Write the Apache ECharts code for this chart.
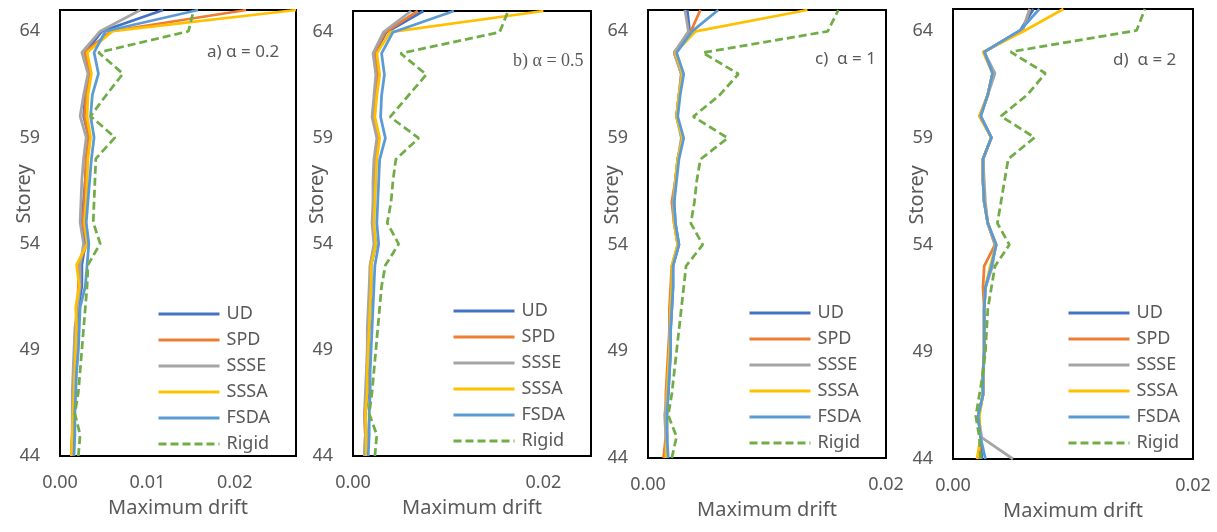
<!DOCTYPE html>
<html>
<head>
<meta charset="utf-8">
<script src="https://cdn.jsdelivr.net/npm/echarts@6/dist/echarts.min.js"></script>
<style>html,body{margin:0;padding:0;background:#fff}#c{width:1217px;height:532px}</style>
</head>
<body>
<div id="c"></div>
<script>
// ---------- data ----------
const storeys = [44,45,46,47,48,49,50,51,52,53,54,55,56,57,58,59,60,61,62,63,64,65];
const seriesNames = ['UD','SPD','SSSE','SSSA','FSDA','Rigid'];
const panelLabels = ['a) \u03b1 = 0.2','b) \u03b1 = 0.5','c)  \u03b1 = 1','d)  \u03b1 = 2'];
const xMaxes = [0.027, 0.025, 0.02, 0.02];
const xTickValuesA = [0, 0.01, 0.02];
const xTickValuesBCD = [0, 0.02];
const yTickValues = [44, 49, 54, 59, 64];

// panel a (alpha = 0.2)
const udA    = [.0014,.0015,.0015,.0016,.0017,.0018,.0019,.0021,.0025,.0025,.0029,.0025,.0027,.0029,.0030,.0033,.0027,.0029,.0033,.0029,.0048,.0118];
const spdA   = [.0013,.0014,.0015,.0015,.0016,.0017,.0018,.0020,.0021,.0021,.0031,.0026,.0028,.0029,.0030,.0033,.0028,.0030,.0034,.0028,.0058,.0213];
const ssseA  = [.0013,.0014,.0014,.0014,.0015,.0016,.0017,.0020,.0023,.0023,.0027,.0023,.0024,.0025,.0027,.0030,.0023,.0027,.0032,.0025,.0046,.0092];
const sssaA  = [.0013,.0014,.0015,.0016,.0017,.0018,.0019,.0018,.0022,.0019,.0031,.0028,.0030,.0031,.0032,.0035,.0031,.0032,.0036,.0031,.0060,.0270];
const fsdaA  = [.0016,.0017,.0017,.0018,.0019,.0021,.0022,.0023,.0029,.0031,.0033,.0030,.0032,.0034,.0036,.0039,.0035,.0037,.0044,.0039,.0052,.0158];
const rigidA = [.0021,.0023,.0017,.0021,.0023,.0025,.0027,.0029,.0031,.0032,.0046,.0038,.0039,.0040,.0041,.0063,.0035,.0053,.0072,.0044,.0147,.0153];

// panel b (alpha = 0.5)
const udB    = [.0013,.0014,.0013,.0016,.0016,.0016,.0017,.0018,.0019,.0019,.0024,.0021,.0022,.0023,.0024,.0027,.0022,.0024,.0026,.0023,.0035,.0074];
const spdB   = [.0012,.0013,.0012,.0015,.0015,.0015,.0016,.0017,.0018,.0018,.0023,.0021,.0022,.0022,.0023,.0026,.0021,.0023,.0026,.0022,.0034,.0068];
const ssseB  = [.0012,.0013,.0012,.0013,.0014,.0015,.0015,.0016,.0017,.0018,.0022,.0020,.0021,.0021,.0022,.0025,.0020,.0022,.0024,.0021,.0032,.0061];
const sssaB  = [.0014,.0014,.0013,.0015,.0015,.0016,.0017,.0018,.0019,.0019,.0024,.0022,.0023,.0024,.0025,.0028,.0023,.0025,.0028,.0025,.0039,.0200];
const fsdaB  = [.0016,.0017,.0017,.0018,.0018,.0019,.0020,.0021,.0022,.0023,.0027,.0025,.0026,.0027,.0028,.0034,.0029,.0030,.0033,.0030,.0042,.0106];
const rigidB = [.0023,.0025,.0017,.0020,.0022,.0024,.0026,.0028,.0030,.0034,.0048,.0036,.0040,.0042,.0045,.0069,.0039,.0058,.0077,.0050,.0154,.0163];

// panel c (alpha = 1)
const udC    = [.0015,.0016,.0015,.0017,.0018,.0019,.0019,.0020,.0021,.0021,.0026,.0023,.0022,.0023,.0025,.0029,.0024,.0026,.0029,.0022,.0035,.0033];
const spdC   = [.0013,.0015,.0015,.0015,.0016,.0017,.0018,.0018,.0019,.0020,.0025,.0022,.0020,.0023,.0025,.0029,.0024,.0026,.0028,.0022,.0036,.0044];
const ssseC  = [.0015,.0015,.0014,.0016,.0017,.0018,.0018,.0019,.0020,.0021,.0025,.0022,.0021,.0023,.0025,.0028,.0024,.0026,.0028,.0022,.0034,.0031];
const sssaC  = [.0015,.0016,.0016,.0016,.0017,.0018,.0019,.0019,.0020,.0020,.0025,.0022,.0022,.0023,.0025,.0029,.0024,.0026,.0029,.0023,.0040,.0134];
const fsdaC  = [.0017,.0016,.0016,.0017,.0018,.0019,.0019,.0020,.0021,.0021,.0026,.0023,.0022,.0024,.0026,.0030,.0025,.0027,.0030,.0024,.0037,.0059];
const rigidC = [.0020,.0024,.0017,.0020,.0022,.0024,.0026,.0028,.0030,.0032,.0046,.0036,.0039,.0041,.0044,.0067,.0038,.0060,.0076,.0046,.0151,.0160];

// panel d (alpha = 2)
const udD    = [.0024,.0023,.0021,.0025,.0025,.0026,.0026,.0026,.0027,.0032,.0036,.0029,.0026,.0025,.0025,.0032,.0023,.0029,.0033,.0026,.0056,.0067];
const spdD   = [.0022,.0023,.0021,.0025,.0025,.0026,.0026,.0026,.0025,.0026,.0035,.0029,.0026,.0025,.0025,.0032,.0022,.0029,.0033,.0026,.0058,.0064];
const ssseD  = [.0050,.0024,.0021,.0025,.0025,.0026,.0026,.0026,.0027,.0033,.0035,.0029,.0027,.0026,.0025,.0032,.0023,.0029,.0035,.0026,.0058,.0064];
const sssaD  = [.0020,.0023,.0022,.0025,.0025,.0026,.0026,.0026,.0027,.0031,.0036,.0029,.0026,.0025,.0025,.0032,.0022,.0029,.0033,.0025,.0060,.0092];
const fsdaD  = [.0027,.0023,.0021,.0025,.0025,.0026,.0026,.0026,.0027,.0032,.0036,.0029,.0026,.0025,.0025,.0032,.0023,.0029,.0033,.0026,.0056,.0072];
const rigidD = [.0023,.0022,.0019,.0022,.0025,.0027,.0028,.0029,.0032,.0035,.0047,.0037,.0040,.0043,.0046,.0068,.0040,.0062,.0077,.0048,.0153,.0160];

// ---------- presentation ----------
const panelData = [
  [udA, spdA, ssseA, sssaA, fsdaA, rigidA],
  [udB, spdB, ssseB, sssaB, fsdaB, rigidB],
  [udC, spdC, ssseC, sssaC, fsdaC, rigidC],
  [udD, spdD, ssseD, sssaD, fsdaD, rigidD]
];
const colors = ['#4472C4','#ED7D31','#A5A5A5','#FFC000','#5B9BD5','#70AD47'];
const grids = [
  {left: 60,  top: 10, width: 236, height: 446},
  {left: 353, top: 11, width: 238, height: 445},
  {left: 648, top: 10, width: 238, height: 448},
  {left: 953, top: 9,  width: 240, height: 450}
];
const legendPos = [
  {left: 157, top: 305},
  {left: 452, top: 302},
  {left: 748, top: 304},
  {left: 1067, top: 304}
];
const labelPos = [
  {left: 207, top: 42},
  {left: 513, top: 51},
  {left: 815, top: 49},
  {left: 1113, top: 50}
];
const FONT = 'Noto Sans';
const GREY = '#595959';

const option = {
  animation: false,
  backgroundColor: '#fff',
  grid: grids.map(g => Object.assign({
    show: true, borderColor: '#000', borderWidth: 2,
    backgroundColor: 'transparent', containLabel: false, outerBoundsMode: 'none'
  }, g)),
  title: panelLabels.map((t, i) => ({
    text: t, left: labelPos[i].left, top: labelPos[i].top, padding: 0,
    textStyle: {
      fontSize: i === 1 ? 18 : 17, fontWeight: 'normal', color: GREY,
      fontFamily: i === 1 ? 'Liberation Serif' : FONT, lineHeight: 20
    }
  })),
  legend: legendPos.map(p => ({
    data: seriesNames, orient: 'vertical', left: p.left, top: p.top,
    padding: 0, itemWidth: 61, itemHeight: 14, itemGap: 8,
    selectedMode: false,
    itemStyle: {opacity: 0},
    lineStyle: {width: 3},
    textStyle: {fontSize: 18, color: GREY, fontFamily: FONT, lineHeight: 18, padding: [0,0,0,2]}
  })),
  xAxis: grids.map((g, i) => ({
    gridIndex: i, type: 'value', min: 0, max: xMaxes[i],
    axisLine: {show: false}, axisTick: {show: false}, splitLine: {show: false},
    axisLabel: {
      customValues: i === 0 ? xTickValuesA : xTickValuesBCD,
      formatter: v => v.toFixed(2), color: GREY, fontSize: 18, fontFamily: FONT, margin: 18,
      showMinLabel: true, showMaxLabel: true
    },
    name: 'Maximum drift', nameLocation: 'middle', nameGap: 42, nameMoveOverlap: false,
    nameTextStyle: {fontSize: 20, color: GREY, fontFamily: FONT}
  })),
  yAxis: grids.map((g, i) => ({
    gridIndex: i, type: 'value', min: 44, max: 65,
    axisLine: {show: false}, axisTick: {show: false}, splitLine: {show: false},
    axisLabel: {customValues: yTickValues, color: GREY, fontSize: 18, fontFamily: FONT, margin: 20},
    name: 'Storey', nameLocation: 'middle', nameGap: 26, nameMoveOverlap: false,
    nameTextStyle: {fontSize: 20, color: GREY, fontFamily: FONT, padding: [0, 0, 0, 78]}
  })),
  series: []
};

panelData.forEach((arrs, p) => {
  arrs.forEach((vals, k) => {
    option.series.push({
      name: seriesNames[k], type: 'line',
      xAxisIndex: p, yAxisIndex: p,
      symbol: 'none', smooth: false,
      color: colors[k],
      lineStyle: {width: 2.75, color: colors[k], type: k === 5 ? [8, 4] : 'solid'},
      data: storeys.map((s, j) => [vals[j], s])
    });
  });
});

const chart = echarts.init(document.getElementById('c'), null, {renderer: 'canvas'});
chart.setOption(option);
</script>
</body>
</html>
